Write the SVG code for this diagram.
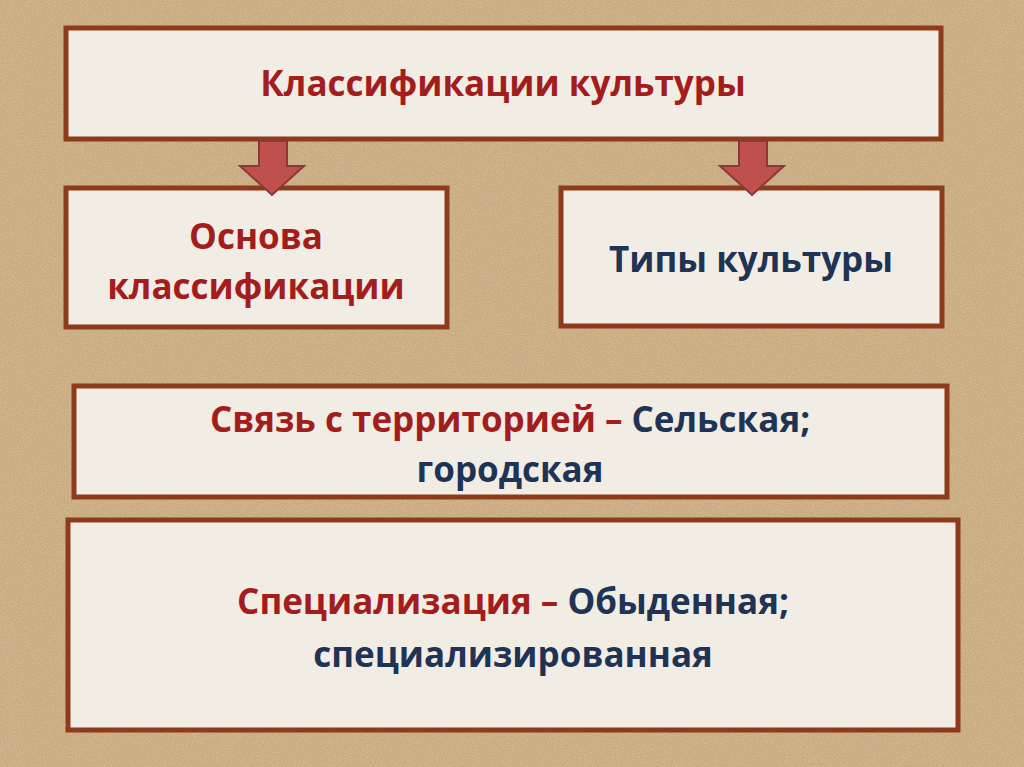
<svg xmlns="http://www.w3.org/2000/svg" width="1024" height="767" viewBox="0 0 1024 767">
<defs>
<filter id="sand" x="0" y="0" width="100%" height="100%">
<feTurbulence type="fractalNoise" baseFrequency="0.9" numOctaves="2" seed="3" result="n"/>
<feColorMatrix in="n" type="matrix" values="0 0 0 0 0.78  0 0 0 0 0.66  0 0 0 0 0.48  0 0 0 -1.2 1.0"/>
</filter>
<style>
.box{fill:#f1ece4;stroke:#8e3b1c;stroke-width:5}
.arr{fill:#c0504d;stroke:#8c3836;stroke-width:2}
text{font-family:"Open Sans","Liberation Sans",sans-serif;font-weight:bold;font-size:35px;text-anchor:middle}
.r{fill:#a31d1d}.b{fill:#1f3354}
</style>
</defs>
<rect width="1024" height="767" fill="#c4a476"/>
<rect width="1024" height="767" fill="#a88356" filter="url(#sand)" opacity="0.6"/>
<g id="n1"><rect class="box" x="66" y="28" width="875" height="111"/><text x="503" y="96" class="r">Классификации культуры</text></g>
<g id="n2"><rect class="box" x="66" y="188" width="381" height="139"/><text x="256" y="249" class="r">Основа</text><text x="256" y="299" class="r">классификации</text></g>
<g id="n3"><rect class="box" x="561" y="188" width="381" height="138"/><text x="751" y="272" class="b">Типы культуры</text></g>
<g id="n4"><rect class="box" x="74" y="386" width="873" height="111"/><text x="510" y="432"><tspan class="r">Связь с территорией – </tspan><tspan class="b">Сельская;</tspan></text><text x="510" y="482" class="b">городская</text></g>
<g id="n5"><rect class="box" x="68" y="520" width="890" height="210"/><text x="513" y="614"><tspan class="r">Специализация – </tspan><tspan class="b">Обыденная;</tspan></text><text x="513" y="667" class="b">специализированная</text></g>
<g id="connectors">
<polygon class="arr" points="259,141 287,141 287,166 304,166 272,195 240,166 259,166"/>
<polygon class="arr" points="739,141 767,141 767,166 784,166 752,195 720,166 739,166"/>
</g>
</svg>
